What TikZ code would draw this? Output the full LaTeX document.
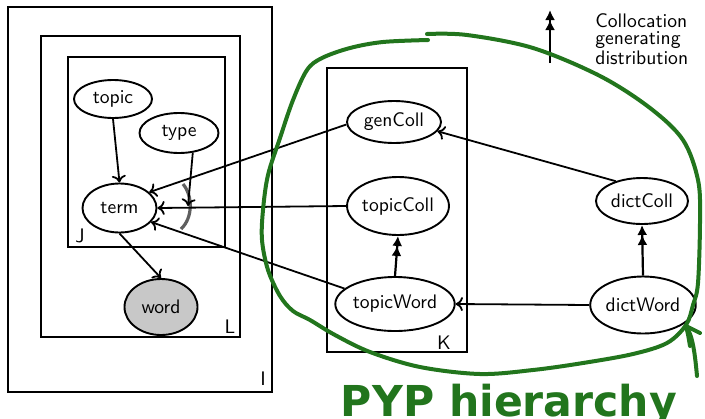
\documentclass[tikz,border=0pt]{standalone}
\usepackage{fontspec}
\newfontfamily\pypfont{DejaVu Sans}
\usetikzlibrary{arrows.meta,shapes.geometric}
\definecolor{pypgreen}{RGB}{34,117,29}
\definecolor{obsgray}{RGB}{200,200,200}
\definecolor{gategray}{RGB}{95,95,95}
\tikzset{
  var/.style={ellipse,draw,line width=0.95pt,inner sep=0pt,
    font=\fontsize{9.8}{10}\sffamily},
  plate/.style={draw,line width=1pt},
  platelabel/.style={inner sep=0pt,font=\fontsize{9.8}{10}\sffamily},
  edge/.style={line width=0.9pt,-{To[length=3.6pt,width=7pt]}},
  genedge/.style={line width=1.1pt,
    -{Latex[length=5pt,width=5pt] Latex[length=5pt,width=5pt]}},
  hull/.style={draw=pypgreen,line width=2pt,line cap=round,line join=round}
}
\begin{document}
\begin{tikzpicture}[x=0.5pt,y=-0.5pt]
\useasboundingbox (0,0) rectangle (705,418);

% plates
\draw[plate] (8,7) rectangle (272,392);
\draw[plate] (41,36) rectangle (240,337);
\draw[plate] (68,57) rectangle (225,247);
\draw[plate] (327,68) rectangle (467,352);
\node[platelabel] (labI) at (263,379) {I};
\node[platelabel] (labL) at (230,327) {L};
\node[platelabel] (labJ) at (80,236) {J};
\node[platelabel] (labK) at (444,343) {K};

% variables of the document model
\node[var,minimum width=39pt,minimum height=19pt] (topic) at (113,99) {topic};
\node[var,minimum width=39.5pt,minimum height=20pt] (type) at (179,133) {type};
\node[var,minimum width=37pt,minimum height=24.5pt] (term) at (119.5,208) {term};
\node[var,fill=obsgray,minimum width=36.5pt,minimum height=28pt] (word) at (161,307) {word};

% collocation distributions
\node[var,minimum width=47pt,minimum height=21pt] (genColl) at (394,122) {genColl};
\node[var,minimum width=48pt,minimum height=29pt] (topicColl) at (398,206) {topicColl};
\node[var,minimum width=57.5pt,minimum height=27pt] (topicWord) at (395,304) {topicWord};
\node[var,minimum width=46pt,minimum height=23pt] (dictColl) at (642,201) {dictColl};
\node[var,minimum width=50.5pt,minimum height=28.5pt] (dictWord) at (643,305) {dictWord};

% switch on the incoming edges of term
\draw[gategray,line width=1.6pt] (183,184) .. controls (193,196) and (193,218) .. (181,229);
\coordinate (gate) at (188,206);

% edges
\draw[edge] (topic.south) -- (term.north);
\draw[edge] (type.-55) -- (gate);
\draw[edge] (term.south) -- (word.north);
\draw[edge] (genColl.183) -- (term.28);
\draw[edge] (topicColl.west) -- (term.east);
\draw[edge] (topicWord.163) -- (term.-24);
\draw[edge] (dictColl.143) -- (genColl.-12);
\draw[edge] (dictWord.west) -- (topicWord.east);
\draw[genedge] (topicWord.north) -- (topicColl.south);
\draw[genedge] (dictWord.north) -- (dictColl.south);

% legend
\coordinate (legtail) at (550,63);
\coordinate (leghead) at (550,10);
\draw[genedge] (legtail) -- (leghead);
\node[anchor=north west,inner sep=0pt,align=left,
  font=\fontsize{9.8}{8.8}\sffamily] (legtext) at (595,13)
  {Collocation\\generating\\distribution};

% hand-drawn hull around the PYP nodes
\draw[hull] plot[smooth,tension=0.55] coordinates {
  (427,34) (467,35) (533,48) (600,76) (650,108) (683,140) (698,180)
  (700,220) (698,283) (693,305) (686,325) (667,343) (633,354) (583,363)
  (533,370) (480,374) (420,367) (370,352) (335,335) (310,320) (293,311)
  (280,296) (268,270) (262,240) (263,210) (268,175) (280,138) (293,100)
  (307,70) (322,58) (350,48) (383,42) (428,40)};
\coordinate (ptrtail) at (697,376);
\coordinate (ptrtip) at (686,326);
\draw[hull] (ptrtail) .. controls (695,355) and (693,336) .. (ptrtip);
\draw[hull] (ptrtip) -- (700,333);
\draw[hull] (ptrtip) .. controls (688,334) .. (690,346);
\node[anchor=base,inner sep=0pt,text=pypgreen,
  font=\pypfont\bfseries\fontsize{21.3}{22}\selectfont] (pyp) at (509,416)
  {PYP hierarchy};
\end{tikzpicture}
\end{document}
